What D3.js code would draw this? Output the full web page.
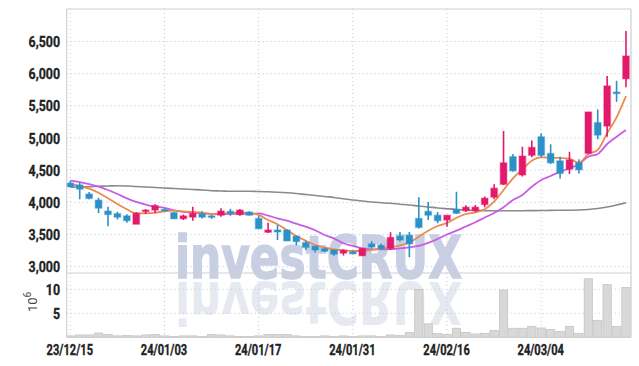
<!DOCTYPE html>
<html><head><meta charset="utf-8">
<script src="https://cdn.jsdelivr.net/npm/d3@7"></script>
<style>
html,body{margin:0;padding:0;background:#fff;}
svg{display:block;}
.tick-label{font-family:Roboto,"DejaVu Sans",sans-serif;font-weight:bold;fill:#222;stroke:#222;stroke-width:0.35px;}
</style></head>
<body>
<svg id="chart" width="639" height="366"></svg>
<script>
const dates = ["23/12/15","23/12/18","23/12/19","23/12/20","23/12/21","23/12/22","23/12/26","23/12/27","23/12/28","24/01/02",
"24/01/03","24/01/04","24/01/05","24/01/08","24/01/09","24/01/10","24/01/11","24/01/12","24/01/15","24/01/16",
"24/01/17","24/01/18","24/01/19","24/01/22","24/01/23","24/01/24","24/01/25","24/01/26","24/01/29","24/01/30",
"24/01/31","24/02/01","24/02/02","24/02/05","24/02/06","24/02/07","24/02/08","24/02/13","24/02/14","24/02/15",
"24/02/16","24/02/19","24/02/20","24/02/21","24/02/22","24/02/23","24/02/26","24/02/27","24/02/28","24/02/29",
"24/03/04","24/03/05","24/03/06","24/03/07","24/03/08","24/03/11","24/03/12","24/03/13","24/03/14","24/03/15"];
const xTickLabels = ["23/12/15","24/01/03","24/01/17","24/01/31","24/02/16","24/03/04"];
const priceTicks = [3000,3500,4000,4500,5000,5500,6000,6500];
const volumeTicks = [5,10];

const open  = [4300,4270,4130,4035,3865,3825,3790,3660,3865,3880, 3890,3840,3745,3770,3820,3790,3800,3860,3810,3850,
               3750,3535,3570,3570,3475,3375,3320,3280,3260,3210, 3230,3170,3355,3330,3285,3475,3490,3750,3860,3800,
               3725,3890,3870,3870,3965,4080,4280,4710,4425,4730, 5020,4760,4645,4515,4615,4760,5240,5185,5715,5920];
const high  = [4330,4300,4160,4070,3930,3855,3815,3850,3895,3970, 3905,3850,3810,3930,3860,3805,3910,3900,3895,3860,
               3790,3685,3650,3580,3480,3405,3325,3300,3265,3270, 3245,3290,3395,3355,3535,3540,3540,4080,4005,3850,
               3800,4165,3955,3960,4090,4280,5110,4750,4865,4960, 5075,4905,4710,4785,4670,5410,5445,5965,5890,6665];
const low   = [4240,4050,4050,3835,3630,3735,3685,3660,3820,3830, 3860,3740,3725,3715,3750,3745,3775,3790,3790,3795,
               3590,3525,3415,3400,3335,3260,3220,3230,3170,3175, 3195,3165,3280,3260,3260,3390,3145,3595,3725,3675,
               3620,3820,3850,3850,3925,4050,4270,4475,4400,4700, 4700,4595,4370,4440,4450,4760,4980,5020,5565,5790];
const close = [4240,4205,4060,3910,3810,3770,3715,3830,3880,3950, 3870,3745,3790,3830,3770,3770,3865,3830,3880,3800,
               3590,3570,3540,3400,3390,3300,3260,3240,3195,3255, 3200,3285,3305,3280,3455,3415,3355,3610,3800,3715,
               3800,3830,3925,3925,4065,4220,4615,4490,4720,4855, 4730,4615,4450,4660,4505,5405,5045,5810,5690,6275];
const ma5   = [4285,4254,4212,4150,4063,3975,3892,3830,3830,3839, 3861,3870,3861,3850,3839,3819,3827,3834,3842,3834,
               3804,3726,3659,3570,3477,3404,3337,3296,3270,3255, 3244,3244,3260,3280,3302,3332,3373,3466,3560,3633,
               3680,3760,3819,3845,3892,4010,4192,4374,4514,4648, 4700,4694,4690,4679,4616,4752,4814,5073,5322,5653];
const ma10  = [4337,4316,4285,4243,4192,4130,4063,4006,3964,3933, 3915,3875,3852,3839,3830,3822,3818,3818,3822,3822,
               3830,3793,3752,3715,3668,3622,3566,3493,3441,3364, 3322,3286,3270,3270,3275,3286,3302,3325,3370,3430,
               3500,3560,3625,3690,3765,3835,3925,4035,4115,4243, 4348,4410,4477,4529,4596,4710,4752,4907,5021,5125];
const maLong= [4234,4239,4243,4250,4254,4259,4254,4246,4239,4231, 4223,4215,4208,4200,4192,4181,4177,4172,4172,4172,
               4169,4164,4158,4150,4138,4122,4107,4091,4076,4057, 4037,4021,4006,3995,3985,3971,3959,3943,3928,3912,
               3900,3889,3881,3877,3872,3870,3870,3870,3870,3872, 3873,3875,3877,3878,3881,3889,3905,3928,3959,3995];
const volume= [0.3,0.5,0.5,0.9,0.6,0.3,0.4,0.3,0.5,0.6, 0.3,0.2,0.3,0.3,0.2,0.6,0.5,0.3,0.2,0.2,
               0.3,0.6,0.6,0.6,0.3,0.2,0.2,0.3,0.2,0.3, 0.2,0.3,0.3,0.2,0.5,0.4,1.0,10.0,2.8,0.8,
               0.6,1.9,1.05,0.7,0.85,1.45,9.85,1.9,1.9,2.3, 1.95,1.65,1.25,2.3,0.85,12.2,3.55,11.0,2.3,10.4];

const UP = "#e3196b", DOWN = "#2b91c8";
const svg = d3.select("#chart");
const L = 66.7, R = 631, T = 9, PB = 273, VB = 337.3;

const x = d3.scaleBand().domain(dates).range([65.6, 630.7]).padding(0);
const cx = d => x(d) + x.bandwidth()/2;
const y = d3.scaleLinear().domain([3000, 6500]).range([266.7, 41.5]);
const yv = d3.scaleLinear().domain([0, 10]).range([VB, 289.3]);

svg.append("defs").append("clipPath").attr("id","clip")
  .append("rect").attr("x",L).attr("y",T).attr("width",R-L).attr("height",VB-T);

// watermark
const wm = svg.append("g");
wm.append("text").text("investCRUX").attr("x",175).attr("y",278)
  .attr("textLength",287).attr("lengthAdjust","spacingAndGlyphs")
  .style("font-family","DejaVu Sans").style("font-weight","bold").style("font-size","58px")
  .style("fill","#c9cfe3").style("stroke","#c9cfe3").style("stroke-width",1.5);
wm.append("text").text("investCRUX").attr("x",175).attr("y",278)
  .attr("transform","translate(0,560) scale(1,-1)")
  .attr("textLength",287).attr("lengthAdjust","spacingAndGlyphs")
  .style("font-family","DejaVu Sans").style("font-weight","bold").style("font-size","58px")
  .style("fill","#e7e9f1");

// grid
const grid = svg.append("g").attr("stroke","#c4c7d6").attr("stroke-width",1).attr("stroke-dasharray","1,3");
grid.selectAll("line.h").data(priceTicks).join("line")
  .attr("x1",L).attr("x2",R).attr("y1",d=>y(d)).attr("y2",d=>y(d));
grid.selectAll("line.v").data(volumeTicks).join("line")
  .attr("x1",L).attr("x2",R).attr("y1",d=>yv(d)).attr("y2",d=>yv(d));
grid.selectAll("line.x").data(xTickLabels).join("line")
  .attr("x1",d=>cx(d)).attr("x2",d=>cx(d)).attr("y1",T).attr("y2",VB);

// volume bars
const plot = svg.append("g").attr("clip-path","url(#clip)");
plot.selectAll("rect.vol").data(dates).join("rect")
  .attr("x",d=>x(d)+0.5).attr("width",x.bandwidth()-1)
  .attr("y",(d,i)=>yv(volume[i])).attr("height",(d,i)=>VB-yv(volume[i]))
  .attr("fill","#d8d8d8").attr("stroke","#bcbcbc").attr("stroke-width",0.6);

// MA lines
const lineGen = arr => d3.line().x((d,i)=>cx(dates[i])).y(d=>y(d)).curve(d3.curveMonotoneX)(arr);
plot.append("path").attr("d",lineGen(maLong)).attr("fill","none").attr("stroke","#8a8a8a").attr("stroke-width",1.6);
plot.append("path").attr("d",lineGen(ma10)).attr("fill","none").attr("stroke","#c95be6").attr("stroke-width",1.8);
plot.append("path").attr("d",lineGen(ma5)).attr("fill","none").attr("stroke","#ee8a50").attr("stroke-width",1.8);

// candles
const cg = plot.append("g");
dates.forEach((d,i)=>{
  const col = close[i] >= open[i] ? UP : DOWN;
  cg.append("line").attr("x1",cx(d)).attr("x2",cx(d)).attr("y1",y(high[i])).attr("y2",y(low[i]))
    .attr("stroke",col).attr("stroke-width",1.6);
  const top = y(Math.max(open[i],close[i])), bot = y(Math.min(open[i],close[i]));
  cg.append("rect").attr("x",cx(d)-3.3).attr("width",6.6).attr("y",top).attr("height",Math.max(bot-top,1.5))
    .attr("fill",col).attr("stroke",col).attr("stroke-opacity",0.35).attr("stroke-width",1.5);
});

// frame
const fr = svg.append("g").attr("stroke","#cfcfcf").attr("stroke-width",1.2);
fr.append("line").attr("x1",L).attr("x2",R).attr("y1",T).attr("y2",T);
fr.append("line").attr("x1",L).attr("x2",L).attr("y1",T).attr("y2",VB);
fr.append("line").attr("x1",R).attr("x2",R).attr("y1",T).attr("y2",VB);
fr.append("line").attr("x1",L).attr("x2",R).attr("y1",PB).attr("y2",PB);
fr.append("line").attr("x1",L).attr("x2",R).attr("y1",VB).attr("y2",VB);

// axes labels (condensed look via horizontal scale)
const fmt = d3.format(",");
svg.selectAll("g.py").data(priceTicks).join("g")
  .attr("transform",d=>`translate(60,${y(d)+5.5}) scale(0.8,1)`)
  .append("text").attr("class","tick-label").attr("text-anchor","end").style("font-size","15.5px").text(d=>fmt(d));
svg.selectAll("g.vy").data(volumeTicks).join("g")
  .attr("transform",d=>`translate(60,${yv(d)+5.5}) scale(0.8,1)`)
  .append("text").attr("class","tick-label").attr("text-anchor","end").style("font-size","15.5px").text(d=>d);
svg.selectAll("g.xl").data(xTickLabels).join("g")
  .attr("transform",d=>`translate(${cx(d)-0.5},354.5) scale(0.74,1)`)
  .append("text").attr("class","tick-label").attr("text-anchor","middle").style("font-size","15px").text(d=>d);

const unit = svg.append("text").attr("transform","translate(37,312) rotate(-90)")
  .style("font-family","Roboto,'DejaVu Sans',sans-serif").style("font-size","13px").style("fill","#444");
unit.append("tspan").text("10");
unit.append("tspan").attr("dy",-6).style("font-size","10px").text("6");
</script>
</body></html>
